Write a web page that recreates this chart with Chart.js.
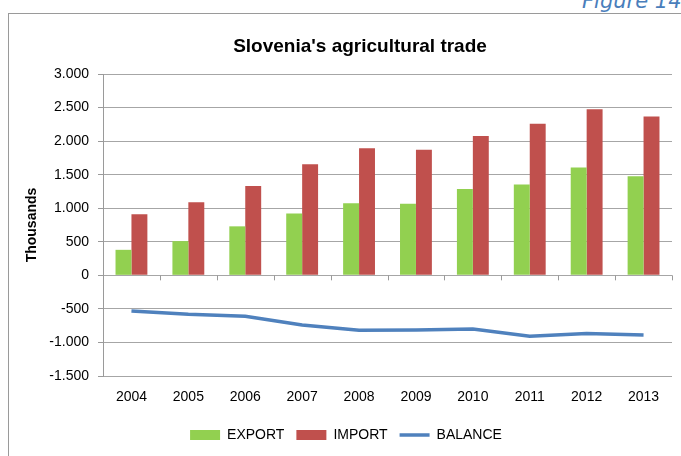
<!DOCTYPE html>
<html>
<head>
<meta charset="utf-8">
<script src="https://cdn.jsdelivr.net/npm/chart.js@4"></script>
<style>
  html, body { margin: 0; padding: 0; background: #fff; overflow: hidden; width: 681px; height: 456px; }
  #frame { position: absolute; left: 8px; top: 13px; width: 720px; height: 480px; border: 1px solid #9a9a9a; box-sizing: border-box; }
  #fig { position: absolute; left: 582px; top: -9px; font: italic 21px "DejaVu Sans", sans-serif; line-height: 20px; color: #4a7ebb; white-space: nowrap; }
  #wrap { position: absolute; left: 8px; top: 13px; width: 704px; height: 443px; }
</style>
</head>
<body>
<div id="frame"></div>
<div id="fig">Figure 14</div>
<div id="wrap"><canvas id="c" width="704" height="443"></canvas></div>
<script>
const years = ['2004','2005','2006','2007','2008','2009','2010','2011','2012','2013'];
const exportVals = [380, 510, 730, 920, 1075, 1065, 1285, 1355, 1605, 1475];
const importVals = [910, 1090, 1330, 1655, 1895, 1870, 2075, 2260, 2475, 2365];
const balanceVals = [-530, -580, -610, -740, -820, -815, -800, -908, -865, -888];
const yMin = -1500, yMax = 3000, yStep = 500;

function fmt(v) {
  const s = String(Math.abs(v)).replace(/\B(?=(\d{3})+(?!\d))/g, '.');
  return (v < 0 ? '-' : '') + s;
}

const tickFont = { family: '"Liberation Sans", Arial, sans-serif', size: 14 };

const xTickMarks = {
  id: 'xTickMarks',
  afterDatasetsDraw(chart) {
    const x = chart.scales.x, y = chart.scales.y, ctx = chart.ctx;
    const y0 = y.getPixelForValue(0);
    ctx.save();
    ctx.strokeStyle = '#9a9a9a';
    ctx.lineWidth = 1;
    ctx.beginPath();
    for (let i = 0; i <= years.length; i++) {
      const px = Math.round(x.getPixelForValue(i - 0.5)) + 0.5;
      ctx.moveTo(px, y0);
      ctx.lineTo(px, y0 + 5);
    }
    ctx.stroke();
    ctx.restore();
  }
};

const legendShift = {
  id: 'legendShift',
  afterLayout(chart) {
    chart.legend.left -= 14;
    chart.legend.right -= 14;
  }
};

new Chart(document.getElementById('c'), {
  type: 'bar',
  data: {
    labels: years,
    datasets: [
      { label: 'EXPORT', data: exportVals, backgroundColor: '#92D050', borderWidth: 0, pointStyle: 'rect' },
      { label: 'IMPORT', data: importVals, backgroundColor: '#C0504D', borderWidth: 0, pointStyle: 'rect' },
      { label: 'BALANCE', type: 'line', data: balanceVals, borderColor: '#4F81BD', backgroundColor: '#4F81BD',
        borderWidth: 3.5, pointRadius: 0, pointStyle: 'line', tension: 0, fill: false }
    ]
  },
  options: {
    responsive: false,
    animation: false,
    devicePixelRatio: 1,
    layout: { padding: { left: 0, right: 0, top: 0, bottom: 4 } },
    datasets: { bar: { categoryPercentage: 0.56, barPercentage: 1 } },
    plugins: {
      title: {
        display: true,
        text: "Slovenia's agricultural trade",
        color: '#000',
        font: { family: '"Liberation Sans", Arial, sans-serif', size: 19, weight: 'bold' },
        padding: { top: 22.6, bottom: 15.6 }
      },
      legend: {
        position: 'bottom',
        labels: {
          usePointStyle: true,
          pointStyleWidth: 30,
          boxHeight: 10,
          padding: 12,
          color: '#000',
          font: { family: '"Liberation Sans", Arial, sans-serif', size: 14 },
          sort: (a, b) => a.datasetIndex - b.datasetIndex
        }
      },
      tooltip: { enabled: false }
    },
    scales: {
      x: {
        grid: { display: false, drawTicks: false },
        border: { display: false },
        ticks: { color: '#000', font: tickFont, padding: 13, maxRotation: 0 },
        afterFit(s) { s.height = 40; }
      },
      y: {
        min: yMin, max: yMax,
        ticks: { stepSize: yStep, color: '#000', font: tickFont, padding: 9, callback: v => fmt(v) },
        grid: { color: '#a6a6a6', tickLength: 5, tickColor: '#9a9a9a' },
        border: { display: true, color: '#9a9a9a' },
        title: {
          display: true, text: 'Thousands', color: '#000',
          font: { family: '"Liberation Sans", Arial, sans-serif', size: 14, weight: 'bold' },
          padding: { top: 15.6, bottom: 0 }
        },
        afterFit(s) { s.width = 95; }
      },
      yR: {
        position: 'right',
        display: true,
        grid: { display: false, drawTicks: false },
        border: { display: false },
        ticks: { display: false },
        afterFit(s) { s.width = 40; }
      }
    }
  },
  plugins: [xTickMarks, legendShift]
});
</script>
</body>
</html>
